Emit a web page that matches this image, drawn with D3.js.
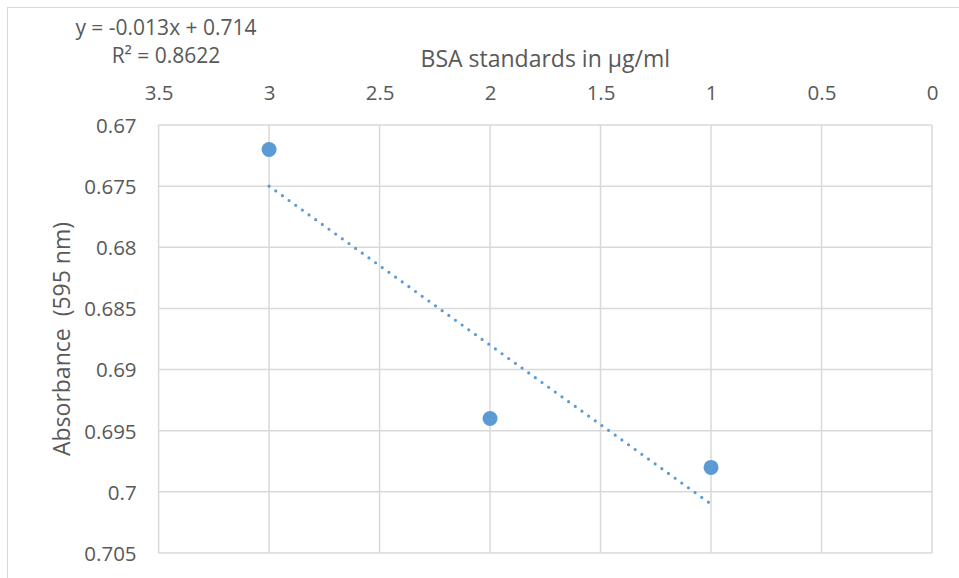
<!DOCTYPE html>
<html>
<head>
<meta charset="utf-8">
<script src="https://cdn.jsdelivr.net/npm/d3@7"></script>
<style>
  body { margin: 0; background: #fff; }
  text { font-family: "Open Sans", sans-serif; fill: #595959; }
</style>
</head>
<body>
<svg id="svg" width="959" height="578"></svg>
<script>
// BSA standards (µg/ml) and measured absorbance at 595 nm
const concentrations = [3, 2, 1];
const absorbance = [0.672, 0.694, 0.698];
const xTicks = [3.5, 3, 2.5, 2, 1.5, 1, 0.5, 0];
const yTicks = [0.67, 0.675, 0.68, 0.685, 0.69, 0.695, 0.7, 0.705];
// linear trendline as reported by the spreadsheet
const trendSlope = -0.013;
const trendIntercept = 0.714;
const trendRange = [3, 1];

const svg = d3.select('#svg');
const plotLeft = 158.6, plotRight = 932, plotTop = 125, plotBottom = 553;
const color = '#5B9BD5';

// both axes run "backwards" like the original
const x = d3.scaleLinear().domain([3.5, 0]).range([plotLeft, plotRight]);
const y = d3.scaleLinear().domain([0.67, 0.705]).range([plotTop, plotBottom]);

// chart border
svg.append('rect')
    .attr('x', 7.5).attr('y', 7.5)
    .attr('width', 970).attr('height', 600)
    .attr('fill', 'none')
    .attr('stroke', '#d9d9d9')
    .attr('stroke-width', 1);

// gridlines
const grid = svg.append('g').attr('stroke', '#d9d9d9').attr('stroke-width', 1.5);
grid.selectAll('.vg').data(xTicks).enter().append('line')
    .attr('x1', d => x(d)).attr('x2', d => x(d))
    .attr('y1', plotTop).attr('y2', plotBottom);
grid.selectAll('.hg').data(yTicks).enter().append('line')
    .attr('x1', plotLeft).attr('x2', plotRight)
    .attr('y1', d => y(d)).attr('y2', d => y(d));

// axes (labels only, lines come from the grid)
const xAxis = svg.append('g')
    .attr('transform', `translate(0,${plotTop - 22})`)
    .call(d3.axisTop(x).tickValues(xTicks).tickSize(0).tickFormat(d3.format('')));
const yAxis = svg.append('g')
    .attr('transform', `translate(${plotLeft - 22},0)`)
    .call(d3.axisLeft(y).tickValues(yTicks).tickSize(0).tickFormat(d3.format('')));
[xAxis, yAxis].forEach(a => {
    a.select('.domain').remove();
    a.selectAll('text')
        .style('font-family', '"Open Sans", sans-serif')
        .style('font-size', '20.5px')
        .attr('fill', '#595959');
});
xAxis.selectAll('text').attr('dy', 0);
yAxis.selectAll('text').attr('x', 0).attr('dy', '0.36em');

// axis titles
svg.append('text')
    .attr('x', (plotLeft + plotRight) / 2).attr('y', 67)
    .attr('text-anchor', 'middle')
    .style('font-size', '23px')
    .text('BSA standards in µg/ml');

svg.append('text')
    .attr('transform', `translate(70,${(plotTop + plotBottom) / 2}) rotate(-90)`)
    .attr('text-anchor', 'middle')
    .style('font-size', '23px')
    .text('Absorbance\u00a0 (595 nm)');

// trendline
const trend = trendRange.map(v => [v, trendSlope * v + trendIntercept]);
svg.append('path')
    .datum(trend)
    .attr('d', d3.line().x(d => x(d[0])).y(d => y(d[1])))
    .attr('fill', 'none')
    .attr('stroke', color)
    .attr('stroke-width', 3.2)
    .attr('stroke-linecap', 'round')
    .attr('stroke-dasharray', '0 8.2');

// data points
svg.selectAll('.pt').data(concentrations).enter().append('circle')
    .attr('cx', d => x(d))
    .attr('cy', (d, i) => y(absorbance[i]))
    .attr('r', 7.5)
    .attr('fill', color);

// trendline label
const eq = svg.append('text')
    .attr('text-anchor', 'middle')
    .style('font-size', '21px');
eq.append('tspan').attr('x', 166).attr('y', 35)
    .text(`y = ${trendSlope}x + ${trendIntercept}`);
eq.append('tspan').attr('x', 166).attr('y', 63)
    .text('R² = 0.8622');
</script>
</body>
</html>
